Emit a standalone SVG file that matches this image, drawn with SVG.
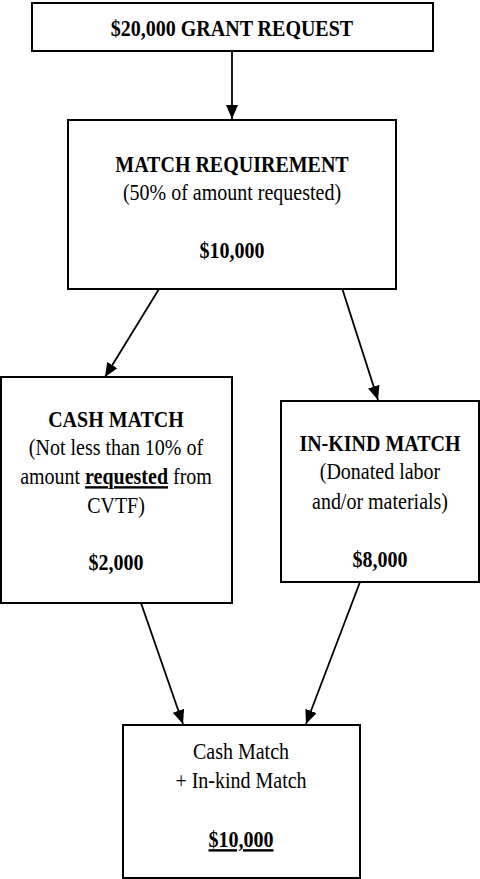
<svg xmlns="http://www.w3.org/2000/svg" width="480" height="879" viewBox="0 0 480 879">
<style>
.box{fill:#fff;stroke:#000;stroke-width:2}
.t{font-size:20px;text-anchor:middle;fill:#000}
.b{font-weight:bold}
.u{text-decoration:underline}
.c{stroke:#000;stroke-width:1.8;fill:none;marker-end:url(#ah)}
</style>
<defs>
<marker id="ah" markerUnits="userSpaceOnUse" markerWidth="14" markerHeight="12" viewBox="0 0 14 12" refX="14" refY="6" orient="auto">
<path d="M0,0 L14,6 L0,12 z" fill="#000"/>
</marker>
</defs>
<rect width="480" height="879" fill="#fff"/>
<g id="connectors">
<line class="c" x1="232" y1="51" x2="232" y2="119"/>
<line class="c" x1="159" y1="289" x2="105" y2="377"/>
<line class="c" x1="342" y1="288" x2="378" y2="400"/>
<line class="c" x1="141" y1="603" x2="183" y2="724"/>
<line class="c" x1="360" y1="582" x2="306" y2="724"/>
</g>
<g font-family="'Liberation Serif', 'Times New Roman', Times, serif">
<g id="grant">
<rect class="box" x="32" y="3" width="401" height="48"/>
<text class="t b" transform="translate(232,36) scale(1,1.2)">$20,000 GRANT REQUEST</text>
</g>
<g id="match">
<rect class="box" x="68" y="120" width="328" height="169"/>
<text class="t b" transform="translate(232,172) scale(1,1.2)">MATCH REQUIREMENT</text>
<text class="t" transform="translate(232,200) scale(1,1.2)">(50% of amount requested)</text>
<text class="t b" transform="translate(232,258) scale(1,1.2)">$10,000</text>
</g>
<g id="cash">
<rect class="box" x="1" y="377" width="231" height="226"/>
<text class="t b" transform="translate(116,427) scale(1,1.2)">CASH MATCH</text>
<text class="t" transform="translate(116,455) scale(1,1.2)">(Not less than 10% of</text>
<text class="t" transform="translate(116,484) scale(1,1.2)">amount <tspan class="b u">requested</tspan> from</text>
<text class="t" transform="translate(116,513) scale(1,1.2)">CVTF)</text>
<text class="t b" transform="translate(116,570) scale(1,1.2)">$2,000</text>
</g>
<g id="inkind">
<rect class="box" x="281" y="401" width="198" height="181"/>
<text class="t b" transform="translate(380,451) scale(1,1.2)">IN-KIND MATCH</text>
<text class="t" transform="translate(380,479) scale(1,1.2)">(Donated labor</text>
<text class="t" transform="translate(380,509) scale(1,1.2)">and/or materials)</text>
<text class="t b" transform="translate(380,567) scale(1,1.2)">$8,000</text>
</g>
<g id="total">
<rect class="box" x="123" y="725" width="237" height="153"/>
<text class="t" transform="translate(241,759) scale(1,1.2)">Cash Match</text>
<text class="t" transform="translate(241,788) scale(1,1.2)">+ In-kind Match</text>
<text class="t b u" transform="translate(241,847) scale(1,1.2)">$10,000</text>
</g>
</g>
</svg>
